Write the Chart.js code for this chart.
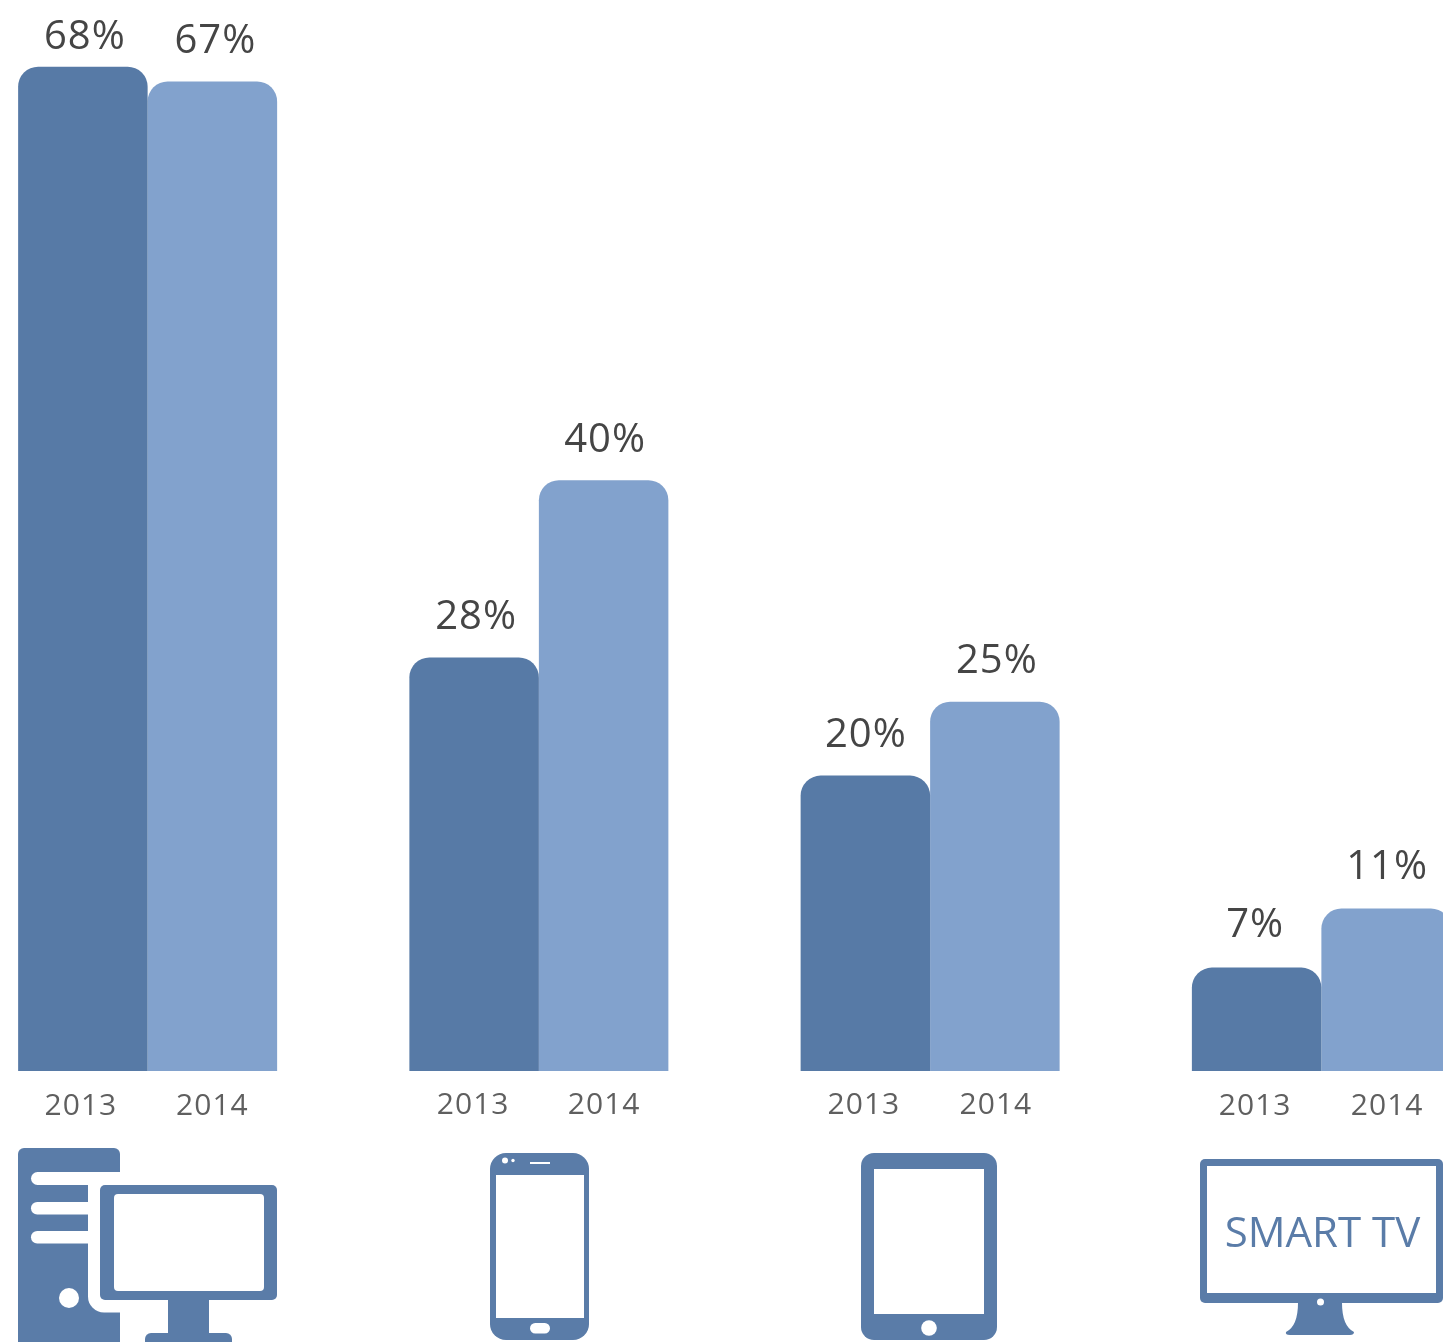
<!DOCTYPE html>
<html>
<head>
<meta charset="utf-8">
<style>
html,body{margin:0;padding:0;background:#fff;overflow:hidden}
#wrap{position:relative;width:1443px;height:1342px;overflow:hidden}
canvas{display:block;position:absolute;left:-48px;top:0}
</style>
<script src="https://cdn.jsdelivr.net/npm/chart.js@4"></script>
</head>
<body>
<div id="wrap"><canvas id="c" width="1565" height="1342"></canvas></div>
<script>
const categories = ["Desktop", "Smartphone", "Tablet", "Smart TV"];
const values2013 = [68, 28, 20, 7];
const values2014 = [67, 40, 25, 11];
const seriesNames = ["2013", "2014"];
const iconText = "SMART TV";

const DARK = "#577aa6", LIGHT = "#82a2cd", ICON = "#5a7ca8";
const FONT = '"Open Sans", "Noto Sans", sans-serif';

function rr(ctx, x0, y0, x1, y1, r, color) {
  ctx.fillStyle = color;
  ctx.beginPath();
  ctx.roundRect(x0, y0, x1 - x0, y1 - y0, r);
  ctx.fill();
}
function dot(ctx, x, y, r, color) {
  ctx.fillStyle = color;
  ctx.beginPath();
  ctx.arc(x, y, r, 0, Math.PI * 2);
  ctx.fill();
}

function drawIcons(ctx) {
  const W = "#fff";
  // desktop
  rr(ctx, 18, 1148, 120, 1360, 6, ICON);
  rr(ctx, 31, 1172, 122, 1185, 6.5, W);
  rr(ctx, 31, 1202, 100, 1214.5, 6.2, W);
  rr(ctx, 31, 1231, 100, 1243.5, 6.2, W);
  ctx.fillStyle = W;
  ctx.beginPath();
  ctx.roundRect(88, 1172, 40, 140.5, [0, 0, 0, 16]);
  ctx.fill();
  dot(ctx, 69, 1298, 10, W);
  rr(ctx, 100, 1185, 277, 1300, 5, ICON);
  rr(ctx, 114, 1194, 264, 1291, 4, W);
  ctx.fillStyle = ICON;
  ctx.fillRect(168, 1300, 41, 34);
  rr(ctx, 145, 1333, 232, 1360, 6, ICON);
  // phone
  rr(ctx, 490, 1153, 589, 1340, 16, ICON);
  ctx.fillStyle = W;
  ctx.fillRect(496, 1175, 88, 143);
  dot(ctx, 505, 1160.5, 3, W);
  dot(ctx, 513, 1160.5, 1.7, W);
  ctx.fillRect(530, 1162, 20, 2);
  rr(ctx, 530, 1323, 550, 1333.5, 5.2, W);
  // tablet
  rr(ctx, 861, 1153, 997, 1340, 13, ICON);
  ctx.fillStyle = W;
  ctx.fillRect(874, 1169, 110, 145);
  dot(ctx, 929, 1328, 7.8, W);
  // TV
  rr(ctx, 1200, 1159, 1443, 1303, 5, ICON);
  ctx.fillStyle = W;
  ctx.fillRect(1207, 1166, 229, 127);
  ctx.fillStyle = ICON;
  ctx.beginPath();
  ctx.moveTo(1298, 1303);
  ctx.lineTo(1342, 1303);
  ctx.quadraticCurveTo(1342, 1326, 1354, 1332);
  ctx.quadraticCurveTo(1354, 1335, 1350, 1335);
  ctx.lineTo(1290, 1335);
  ctx.quadraticCurveTo(1285, 1335, 1286, 1332);
  ctx.quadraticCurveTo(1298, 1326, 1298, 1303);
  ctx.fill();
  dot(ctx, 1320.5, 1302, 3.5, W);
  ctx.fillStyle = ICON;
  ctx.font = "42px " + FONT;
  ctx.textAlign = "center";
  ctx.textBaseline = "alphabetic";
  ctx.letterSpacing = "0px";
  ctx.fillText(iconText, 1322.5, 1247);
}

const annotate = {
  id: "annotate",
  afterDatasetsDraw(chart) {
    const ctx = chart.ctx;
    ctx.save();
    ctx.textAlign = "center";
    ctx.textBaseline = "alphabetic";
    // small hand placement of the labels relative to each bar
    const valueNudge = [
      [[2, -18], [2, -28.4], [0.5, -28.4], [-1.5, -30.5]],
      [[3, -28], [1.5, -27.8], [2, -28.7], [1, -29.5]]
    ];
    const yearNudge = [
      [-2, -1, -1.5, -1.5],
      [0, 0.5, 1, 1]
    ];
    const yearY = [1115, 1114, 1114, 1115];
    chart.data.datasets.forEach((ds, d) => {
      chart.getDatasetMeta(d).data.forEach((bar, i) => {
        ctx.fillStyle = "#454545";
        ctx.font = "40px " + FONT;
        ctx.letterSpacing = "1px";
        const n = valueNudge[d][i];
        ctx.fillText(ds.data[i] + "%", bar.x + n[0], bar.y + n[1]);
        ctx.fillStyle = "#5f5f5f";
        ctx.font = "30px " + FONT;
        ctx.letterSpacing = "1px";
        ctx.fillText(ds.label, bar.x + yearNudge[d][i], yearY[i]);
      });
    });
    ctx.letterSpacing = "0px";
    ctx.translate(48, 0);
    drawIcons(ctx);
    ctx.restore();
  }
};

new Chart(document.getElementById("c"), {
  type: "bar",
  data: {
    labels: categories,
    datasets: [
      { label: seriesNames[0], data: values2013, backgroundColor: DARK },
      { label: seriesNames[1], data: values2014, backgroundColor: LIGHT }
    ]
  },
  options: {
    responsive: false,
    animation: false,
    events: [],
    layout: { padding: { left: 0, right: 0, top: 7.6, bottom: 271 } },
    datasets: {
      bar: {
        categoryPercentage: 259 / 391.25,
        barPercentage: 1,
        borderWidth: 0,
        inflateAmount: 0,
        borderRadius: { topLeft: 20, topRight: 20, bottomLeft: 0, bottomRight: 0 }
      }
    },
    scales: {
      x: { display: false },
      y: { display: false, min: 0, max: 72 }
    },
    plugins: { legend: { display: false }, tooltip: { enabled: false } }
  },
  plugins: [annotate]
});
</script>
</body>
</html>
